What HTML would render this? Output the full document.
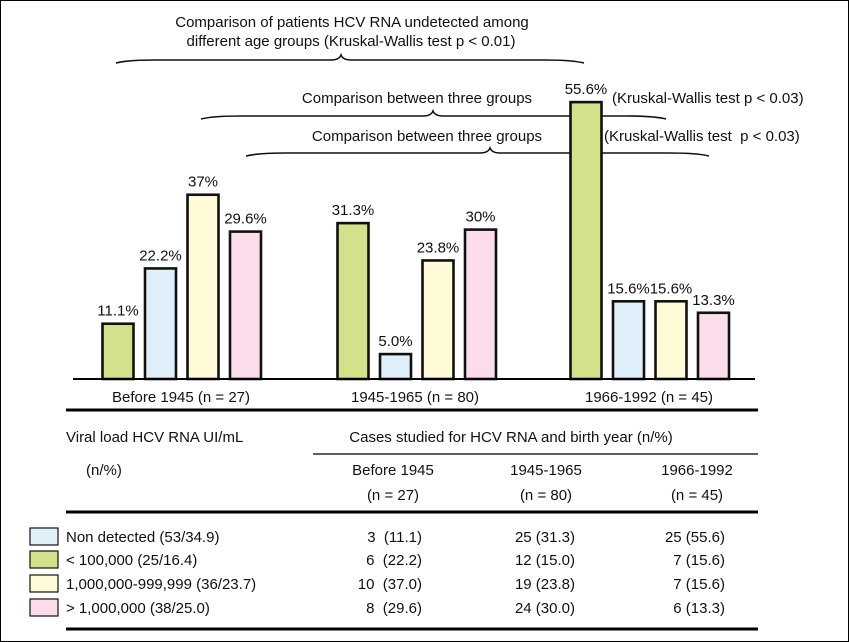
<!DOCTYPE html>
<html><head><meta charset="utf-8"><style>
html,body{margin:0;padding:0;background:#fff}
svg{display:block;font-family:"Liberation Sans",Arial,sans-serif}
</style></head><body>
<svg id="chart" width="849" height="642" viewBox="0 0 849 642" xmlns="http://www.w3.org/2000/svg">
<rect x="0.5" y="0.5" width="848" height="641" fill="#fff" stroke="#000" stroke-width="1"/>
<g id="braces" font-size="15" fill="#111">
<text x="352" y="27" text-anchor="middle">Comparison of patients HCV RNA undetected among</text>
<text x="351" y="46" text-anchor="middle">different age groups (Kruskal-Wallis test p &lt; 0.01)</text>
<text x="417" y="103" text-anchor="middle">Comparison between three groups</text>
<text x="612" y="103">(Kruskal-Wallis test p &lt; 0.03)</text>
<text x="427" y="141" text-anchor="middle">Comparison between three groups</text>
<text x="604" y="141">(Kruskal-Wallis test&#160; p &lt; 0.03)</text>
</g>
<g id="bars"></g>
<line x1="73" y1="379" x2="755" y2="379" stroke="#000" stroke-width="2"/>
<g font-size="15" fill="#111" text-anchor="middle" id="cats"></g>
<line x1="66" y1="410" x2="758" y2="410" stroke="#000" stroke-width="3"/>
<g font-size="15" fill="#111">
<text x="66" y="442">Viral load HCV RNA UI/mL</text>
<text x="86" y="475">(n/%)</text>
<text x="511" y="442" text-anchor="middle">Cases studied for HCV RNA and birth year (n/%)</text>
<line x1="313" y1="454" x2="758" y2="454" stroke="#000" stroke-width="1.2"/>
<text x="393" y="475" text-anchor="middle">Before 1945</text>
<text x="393" y="500" text-anchor="middle">(n = 27)</text>
<text x="546" y="475" text-anchor="middle">1945-1965</text>
<text x="546" y="500" text-anchor="middle">(n = 80)</text>
<text x="697" y="475" text-anchor="middle">1966-1992</text>
<text x="697" y="500" text-anchor="middle">(n = 45)</text>
<line x1="66" y1="512" x2="758" y2="512" stroke="#000" stroke-width="3"/>
<g id="rows"></g>
<line x1="66" y1="629" x2="758" y2="629" stroke="#000" stroke-width="3"/>
</g>
</svg>
<script>
const categories = ["Before 1945 (n = 27)", "1945-1965 (n = 80)", "1966-1992 (n = 45)"];
const seriesGreen = [11.1, 31.3, 55.6];
const seriesBlue = [22.2, 5.0, 15.6];
const seriesYellow = [37, 23.8, 15.6];
const seriesPink = [29.6, 30, 13.3];
const valueLabels = [["11.1%","22.2%","37%","29.6%"],["31.3%","5.0%","23.8%","30%"],["55.6%","15.6%","15.6%","13.3%"]];
const rowLabels = ["Non detected (53/34.9)", "< 100,000 (25/16.4)", "1,000,000-999,999 (36/23.7)", "> 1,000,000 (38/25.0)"];
const rowColors = ["#dff0fb", "#d4e08a", "#fffbd6", "#fbdcea"];
const tableValues = [["3  (11.1)","25 (31.3)","25 (55.6)"],["6  (22.2)","12 (15.0)","7 (15.6)"],["10  (37.0)","19 (23.8)","7 (15.6)"],["8  (29.6)","24 (30.0)","6 (13.3)"]];

const NS = "http://www.w3.org/2000/svg";
const base = 379, pxPer = 4.98;
const groupStart = [101, 336, 569];
const barW = 34, step = 42.5;
const series = [seriesGreen, seriesBlue, seriesYellow, seriesPink];
const colors = ["#d4e08a", "#dff0fb", "#fffbd6", "#fbdcea"];
const snames = ["green", "blue", "yellow", "pink"];
function y(v){ return base - v * pxPer; }
function x(g, s){ return groupStart[g] + s * step; }
const bars = document.getElementById("bars");
for (let g = 0; g < categories.length; g++) {
  for (let s = 0; s < series.length; s++) {
    const v = series[s][g];
    const r = document.createElementNS(NS, "rect");
    
    
    r.setAttribute("x", x(g, s) + 1.5);
    r.setAttribute("y", y(v));
    r.setAttribute("width", barW - 3);
    r.setAttribute("height", base - y(v));
    r.setAttribute("fill", colors[s]);
    r.setAttribute("stroke", "#111");
    r.setAttribute("stroke-width", "2.6");
    bars.appendChild(r);
    const t = document.createElementNS(NS, "text");
    
    
    t.setAttribute("x", x(g, s) + barW / 2);
    t.setAttribute("y", y(v) - 8);
    t.setAttribute("text-anchor", "middle");
    t.setAttribute("font-size", "15");
    t.setAttribute("fill", "#111");
    t.textContent = valueLabels[g][s];
    bars.appendChild(t);
  }
}
const cats = document.getElementById("cats");
const catX = [181, 415, 649];
categories.forEach((c, i) => {
  const t = document.createElementNS(NS, "text");
  
  
  t.setAttribute("x", catX[i]); t.setAttribute("y", 402);
  t.textContent = c; cats.appendChild(t);
});
const br = document.getElementById("braces");
function brace(x0, x1, px, yy, name){
  const p = document.createElementNS(NS, "path");
  
  
  p.setAttribute("d", `M${x0},${yy+3} Q${x0+12},${yy} ${x0+40},${yy} L${px-10},${yy} Q${px-2},${yy} ${px},${yy-5} Q${px+2},${yy} ${px+10},${yy} L${x1-40},${yy} Q${x1-12},${yy} ${x1},${yy+3}`);
  p.setAttribute("fill", "none"); p.setAttribute("stroke", "#111"); p.setAttribute("stroke-width", "1.6");
  br.appendChild(p);
}
brace(116, 584, 341, 60, 'brace-overall');
brace(201, 666, 433, 116, 'brace-comparison-1');
brace(246, 709, 490, 153, 'brace-comparison-2');
const rows = document.getElementById("rows");
const rowY = [542, 565, 589, 613];
const colRight = [422, 575, 725];
rowLabels.forEach((lab, i) => {
  const b = document.createElementNS(NS, "rect");
  
  
  b.setAttribute("x", 30); b.setAttribute("y", rowY[i] - 14);
  b.setAttribute("width", 28); b.setAttribute("height", 17);
  b.setAttribute("fill", rowColors[i]); b.setAttribute("stroke", "#111"); b.setAttribute("stroke-width", "1.2");
  rows.appendChild(b);
  const t = document.createElementNS(NS, "text");
  
  
  t.setAttribute("x", 66); t.setAttribute("y", rowY[i]);
  t.textContent = lab; rows.appendChild(t);
  tableValues[i].forEach((v, j) => {
    const c = document.createElementNS(NS, "text");
    
    
    c.setAttribute("x", colRight[j]); c.setAttribute("y", rowY[i]);
    c.setAttribute("text-anchor", "end");
    c.style.whiteSpace = "pre";
    c.textContent = v; rows.appendChild(c);
  });
});
</script>
</body></html>
